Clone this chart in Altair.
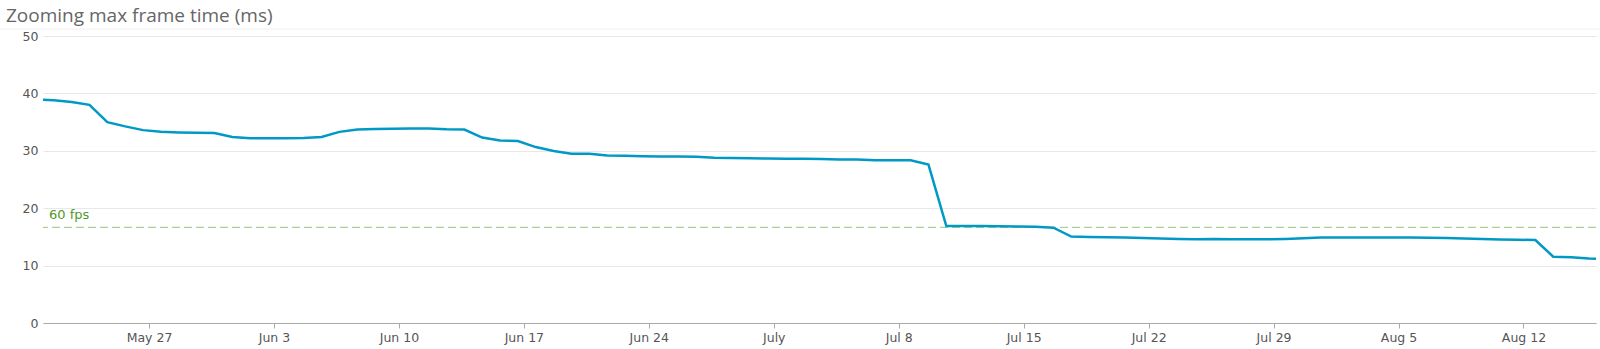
import altair as alt
import pandas as pd

# ---- data ----
start_time = "2019-05-21T01:30:00"
end_time = "2019-08-16T01:30:00"
start_value = 38.9
end_value = 11.2
daily_values = [
    38.8, 38.5, 38.0, 35.0, 34.25, 33.6, 33.3, 33.2, 33.15, 33.1,
    32.4, 32.2, 32.2, 32.2, 32.25, 32.4, 33.3, 33.7, 33.8, 33.85,
    33.9, 33.9, 33.75, 33.7, 32.3, 31.8, 31.7, 30.65, 29.95, 29.5,
    29.5, 29.2, 29.15, 29.05, 29.0, 29.0, 28.95, 28.8, 28.75, 28.7,
    28.65, 28.6, 28.6, 28.55, 28.5, 28.5, 28.35, 28.35, 28.35, 27.6,
    16.9, 16.9, 16.9, 16.85, 16.8, 16.75, 16.6, 15.05, 15.0, 14.95,
    14.9, 14.8, 14.7, 14.65, 14.6, 14.65, 14.6, 14.6, 14.6, 14.65,
    14.75, 14.9, 14.9, 14.9, 14.9, 14.9, 14.9, 14.85, 14.8, 14.7,
    14.65, 14.55, 14.5, 14.45, 11.55, 11.45, 11.25,
]
daily_times = [str(t) for t in pd.date_range("2019-05-21T16:00:00", periods=len(daily_values), freq="D")]
tick_dates = [(2019, 5, 27), (2019, 6, 3), (2019, 6, 10), (2019, 6, 17), (2019, 6, 24),
              (2019, 7, 1), (2019, 7, 8), (2019, 7, 15), (2019, 7, 22), (2019, 7, 29),
              (2019, 8, 5), (2019, 8, 12)]
y_ticks = [0, 10, 20, 30, 40, 50]
threshold_value = 1000 / 60
threshold_label = "60 fps"
title_text = "Zooming max frame time (ms)"

df = pd.DataFrame({
    "time": [start_time] + daily_times + [end_time],
    "value": [start_value] + daily_values + [end_value],
})
thr = pd.DataFrame({"y": [threshold_value], "label": [threshold_label], "title": [title_text]})

tick_values = [alt.DateTime(year=y, month=m, date=d) for (y, m, d) in tick_dates]

x_scale = alt.Scale(domain=[alt.DateTime(year=2019, month=5, date=21, hours=1, minutes=30),
                            alt.DateTime(year=2019, month=8, date=16, hours=1, minutes=30)])
y_scale = alt.Scale(domain=[0, 50])

x_axis = alt.Axis(
    values=tick_values,
    labelExpr="date(datum.value) == 1 ? timeFormat(datum.value, '%B') : timeFormat(datum.value, '%b %-d')",
    title=None, grid=False, domainColor="#aaaaaa", tickColor="#aaaaaa", tickSize=5,
    labelPadding=3, labelFont="DejaVu Sans", labelFontSize=12.5, labelColor="#555555",
)
y_axis = alt.Axis(
    values=y_ticks, title=None, domain=False, ticks=False, labelPadding=5,
    gridColor="#e8e8e8", labelFont="DejaVu Sans", labelFontSize=12.5, labelColor="#555555",
)

line = alt.Chart(df).mark_line(color="#0099c6", strokeWidth=2.5).encode(
    x=alt.X("time:T", scale=x_scale, axis=x_axis),
    y=alt.Y("value:Q", scale=y_scale, axis=y_axis),
)

rule = alt.Chart(thr).mark_rule(color="#9cc47f", strokeDash=[8, 4], strokeWidth=1).encode(
    y=alt.Y("y:Q", scale=y_scale),
)
label = alt.Chart(thr).mark_text(
    align="left", baseline="alphabetic", dy=-8, color="#4f9a26",
    font="DejaVu Sans", fontSize=13,
).encode(x=alt.value(6), y=alt.Y("y:Q", scale=y_scale), text="label:N")

top_line = alt.Chart(thr).mark_rule(color="#efefef", strokeWidth=1).encode(
    x=alt.value(-43), x2=alt.value(1557), y=alt.value(-7),
)
title = alt.Chart(thr).mark_text(
    align="left", baseline="alphabetic", color="#666666",
    font="Open Sans", fontSize=19, fontWeight="normal",
).encode(x=alt.value(-37), y=alt.value(-14), text="title:N")

chart = alt.layer(top_line, rule, line, label, title).properties(
    width=1553, height=287,
    autosize=alt.AutoSizeParams(type="none"),
    padding={"left": 43, "top": 36, "right": 4, "bottom": 26},
).configure(background="white").configure_view(stroke=None)

chart.save("out.html", embed_options={"renderer": "svg", "actions": False})
